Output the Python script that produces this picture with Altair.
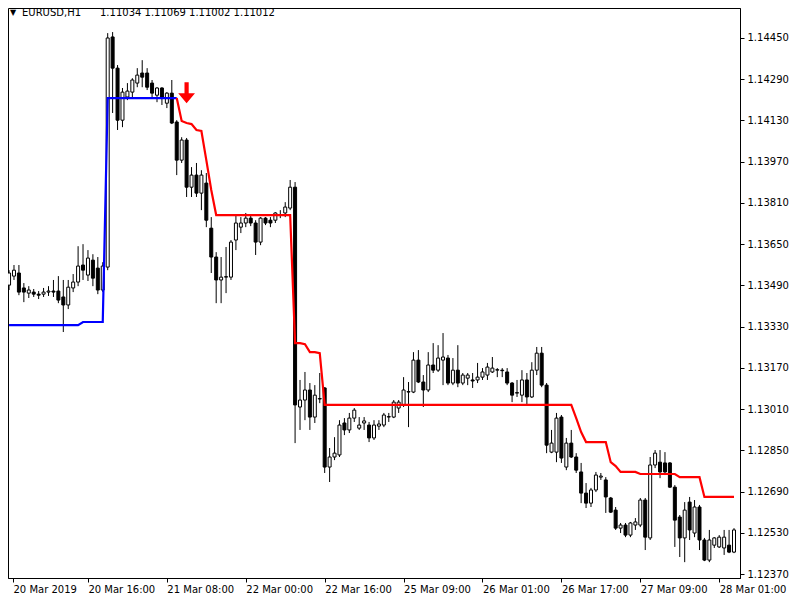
import altair as alt
import pandas as pd

# ---------------- data (EURUSD H1, bar index 0 = 20 Mar 2019 00:00) ----------------
opens = [
    1.13491, 1.13526, 1.13538, 1.13480, 1.13460, 1.13464, 1.13456, 1.13456, 1.13464, 1.13468,
    1.13468, 1.13445, 1.13414, 1.13480, 1.13503, 1.13569, 1.13530, 1.13588, 1.13557, 1.13472,
    1.13561, 1.14454, 1.14333, 1.14131, 1.14221, 1.14240, 1.14275, 1.14314, 1.14314, 1.14275,
    1.14228, 1.14256, 1.14197, 1.14236, 1.14124, 1.13976, 1.14054, 1.13871, 1.13918, 1.13848,
    1.13887, 1.13712, 1.13600, 1.13511, 1.13522, 1.13522, 1.13666, 1.13716, 1.13732, 1.13751,
    1.13732, 1.13658, 1.13751, 1.13743, 1.13743, 1.13763, 1.13771, 1.13790, 1.13871, 1.13018,
    1.13045, 1.13084, 1.12979, 1.13049, 1.13092, 1.12785, 1.12824, 1.12832, 1.12956, 1.12929,
    1.12975, 1.12936, 1.12956, 1.12948, 1.12898, 1.12944, 1.12948, 1.12979, 1.12979, 1.13014,
    1.13026, 1.13076, 1.13076, 1.13200, 1.13115, 1.13084, 1.13181, 1.13161, 1.13200, 1.13208,
    1.13111, 1.13161, 1.13111, 1.13130, 1.13123, 1.13123, 1.13134, 1.13142, 1.13154, 1.13161,
    1.13161, 1.13154, 1.13111, 1.13072, 1.13064, 1.13123, 1.13057, 1.13161, 1.13227, 1.13103,
    1.12843, 1.12843, 1.12979, 1.12785, 1.12878, 1.12824, 1.12766, 1.12684, 1.12645, 1.12696,
    1.12746, 1.12735, 1.12665, 1.12618, 1.12548, 1.12560, 1.12521, 1.12560, 1.12560, 1.12657,
    1.12510, 1.12793, 1.12804, 1.12801, 1.12801, 1.12707, 1.12591, 1.12510, 1.12649, 1.12529,
    1.12630, 1.12502, 1.12424, 1.12482, 1.12475, 1.12471, 1.12482, 1.12455,
]
highs = [
    1.13549, 1.13569, 1.13569, 1.13499, 1.13487, 1.13476, 1.13468, 1.13480, 1.13487, 1.13511,
    1.13526, 1.13511, 1.13511, 1.13534, 1.13642, 1.13650, 1.13627, 1.13611, 1.13600, 1.13580,
    1.14469, 1.14473, 1.14345, 1.14256, 1.14275, 1.14294, 1.14333, 1.14364, 1.14333, 1.14287,
    1.14259, 1.14259, 1.14240, 1.14287, 1.14131, 1.14065, 1.14062, 1.13949, 1.13965, 1.13937,
    1.13926, 1.13755, 1.13619, 1.13600, 1.13639, 1.13666, 1.13763, 1.13755, 1.13771, 1.13763,
    1.13743, 1.13755, 1.13755, 1.13755, 1.13774, 1.13782, 1.13813, 1.13899, 1.13891, 1.13123,
    1.13154, 1.13111, 1.13103, 1.13150, 1.13095, 1.12859, 1.12901, 1.12967, 1.12975, 1.12995,
    1.13014, 1.12979, 1.12979, 1.12960, 1.12967, 1.12967, 1.12995, 1.12995, 1.13045, 1.13045,
    1.13134, 1.13115, 1.13231, 1.13239, 1.13142, 1.13231, 1.13266, 1.13258, 1.13305, 1.13220,
    1.13208, 1.13258, 1.13150, 1.13150, 1.13150, 1.13189, 1.13169, 1.13189, 1.13212, 1.13169,
    1.13169, 1.13169, 1.13115, 1.13123, 1.13161, 1.13150, 1.13192, 1.13251, 1.13251, 1.13111,
    1.12929, 1.12995, 1.12987, 1.12898, 1.12929, 1.12839, 1.12801, 1.12723, 1.12704, 1.12766,
    1.12762, 1.12746, 1.12669, 1.12630, 1.12568, 1.12568, 1.12572, 1.12587, 1.12665, 1.12665,
    1.12824, 1.12851, 1.12851, 1.12843, 1.12804, 1.12715, 1.12599, 1.12649, 1.12669, 1.12657,
    1.12638, 1.12510, 1.12541, 1.12513, 1.12521, 1.12541, 1.12541, 1.12548,
]
lows = [
    1.13472, 1.13511, 1.13452, 1.13425, 1.13441, 1.13445, 1.13437, 1.13445, 1.13449, 1.13445,
    1.13421, 1.13309, 1.13398, 1.13464, 1.13487, 1.13511, 1.13507, 1.13487, 1.13456, 1.13464,
    1.13549, 1.14159, 1.14093, 1.14104, 1.14209, 1.14217, 1.14259, 1.14259, 1.14248, 1.14221,
    1.14201, 1.14190, 1.14178, 1.14116, 1.13918, 1.13965, 1.13833, 1.13833, 1.13833, 1.13782,
    1.13716, 1.13538, 1.13421, 1.13421, 1.13460, 1.13511, 1.13627, 1.13693, 1.13716, 1.13720,
    1.13608, 1.13646, 1.13724, 1.13716, 1.13732, 1.13751, 1.13755, 1.13782, 1.12878, 1.12929,
    1.12967, 1.12929, 1.12956, 1.13033, 1.12762, 1.12727, 1.12812, 1.12824, 1.12909, 1.12917,
    1.12960, 1.12929, 1.12929, 1.12882, 1.12890, 1.12929, 1.12940, 1.12960, 1.12975, 1.12995,
    1.13018, 1.12940, 1.13072, 1.13111, 1.13018, 1.13076, 1.13150, 1.13154, 1.13103, 1.13103,
    1.13103, 1.13095, 1.13103, 1.13103, 1.13092, 1.13111, 1.13123, 1.13123, 1.13150, 1.13134,
    1.13134, 1.13103, 1.13037, 1.13057, 1.13037, 1.13026, 1.13053, 1.13142, 1.13095, 1.12839,
    1.12839, 1.12804, 1.12801, 1.12773, 1.12820, 1.12762, 1.12645, 1.12626, 1.12630, 1.12688,
    1.12735, 1.12607, 1.12607, 1.12541, 1.12529, 1.12513, 1.12513, 1.12541, 1.12552, 1.12463,
    1.12502, 1.12781, 1.12742, 1.12754, 1.12704, 1.12475, 1.12436, 1.12416, 1.12502, 1.12513,
    1.12463, 1.12420, 1.12416, 1.12471, 1.12471, 1.12444, 1.12451, 1.12451,
]
closes = [
    1.13538, 1.13549, 1.13464, 1.13464, 1.13472, 1.13456, 1.13452, 1.13464, 1.13468, 1.13464,
    1.13433, 1.13414, 1.13483, 1.13503, 1.13565, 1.13549, 1.13596, 1.13518, 1.13472, 1.13565,
    1.14450, 1.14333, 1.14131, 1.14240, 1.14244, 1.14287, 1.14306, 1.14298, 1.14259, 1.14236,
    1.14256, 1.14221, 1.14236, 1.14120, 1.13976, 1.14054, 1.13871, 1.13918, 1.13848, 1.13918,
    1.13743, 1.13600, 1.13511, 1.13522, 1.13524, 1.13658, 1.13732, 1.13732, 1.13751, 1.13732,
    1.13658, 1.13751, 1.13732, 1.13732, 1.13771, 1.13765, 1.13794, 1.13871, 1.13026, 1.13045,
    1.13084, 1.12979, 1.13064, 1.13051, 1.12785, 1.12824, 1.12839, 1.12948, 1.12929, 1.12975,
    1.13006, 1.12948, 1.12964, 1.12898, 1.12948, 1.12952, 1.12987, 1.12981, 1.13037, 1.13037,
    1.13084, 1.13078, 1.13200, 1.13115, 1.13084, 1.13181, 1.13161, 1.13208, 1.13212, 1.13111,
    1.13161, 1.13111, 1.13142, 1.13142, 1.13119, 1.13134, 1.13154, 1.13173, 1.13169, 1.13163,
    1.13159, 1.13111, 1.13064, 1.13074, 1.13123, 1.13057, 1.13161, 1.13227, 1.13103, 1.12870,
    1.12878, 1.12975, 1.12820, 1.12878, 1.12824, 1.12773, 1.12684, 1.12645, 1.12696, 1.12754,
    1.12750, 1.12669, 1.12610, 1.12548, 1.12560, 1.12521, 1.12568, 1.12572, 1.12657, 1.12513,
    1.12793, 1.12839, 1.12766, 1.12766, 1.12707, 1.12579, 1.12510, 1.12618, 1.12541, 1.12630,
    1.12502, 1.12424, 1.12502, 1.12510, 1.12513, 1.12513, 1.12455, 1.12541,
]

# trend line (blue = up phase, bars 0..34; red = down phase, bars 34..147)
blue_start = 0
blue_line = [
    1.13336, 1.13336, 1.13336, 1.13336, 1.13336, 1.13336, 1.13336, 1.13336, 1.13336, 1.13336,
    1.13336, 1.13336, 1.13336, 1.13336, 1.13336, 1.13348, 1.13348, 1.13348, 1.13348, 1.13348,
    1.14217, 1.14217, 1.14217, 1.14217, 1.14217, 1.14217, 1.14217, 1.14217, 1.14217, 1.14217,
    1.14217, 1.14217, 1.14217, 1.14217, 1.14217,
]
red_start = 34
red_line = [
    1.14217, 1.14128, 1.14120, 1.14116, 1.14093, 1.14089, 1.13976, 1.13860,
    1.13763, 1.13763, 1.13763, 1.13763, 1.13763, 1.13763, 1.13763, 1.13763,
    1.13763, 1.13763, 1.13763, 1.13763, 1.13763, 1.13763, 1.13763, 1.13763,
    1.13266, 1.13266, 1.13262, 1.13231, 1.13231, 1.13227,
    1.13026, 1.13026, 1.13026, 1.13026, 1.13026, 1.13026, 1.13026, 1.13026, 1.13026, 1.13026,
    1.13026, 1.13026, 1.13026, 1.13026, 1.13026, 1.13026, 1.13026, 1.13026, 1.13026, 1.13026,
    1.13026, 1.13026, 1.13026, 1.13026, 1.13026, 1.13026, 1.13026, 1.13026, 1.13026, 1.13026,
    1.13026, 1.13026, 1.13026, 1.13026, 1.13026, 1.13026, 1.13026, 1.13026, 1.13026, 1.13026,
    1.13026, 1.13026, 1.13026, 1.13026, 1.13026, 1.13026, 1.13026, 1.13026, 1.13026, 1.13026,
    1.13026,
    1.12975, 1.12921, 1.12882, 1.12882, 1.12882, 1.12882, 1.12882,
    1.12804, 1.12789, 1.12766, 1.12766, 1.12766, 1.12766,
    1.12758, 1.12758, 1.12758, 1.12758, 1.12758, 1.12758, 1.12758, 1.12758,
    1.12746, 1.12746, 1.12746, 1.12746, 1.12746,
    1.12669, 1.12669, 1.12669, 1.12669, 1.12669, 1.12669, 1.12669,
]

# sell-signal arrow
arrow_bar = [36]
arrow_price = [1.14238]

# axes
y_ticks = [1.12370, 1.12530, 1.12690, 1.12850, 1.13010, 1.13170, 1.13330,
           1.13490, 1.13650, 1.13810, 1.13970, 1.14130, 1.14290, 1.14450]
x_tick_bars = [0, 16, 32, 48, 64, 80, 96, 112, 128, 144]
x_tick_labels = ["20 Mar 2019", "20 Mar 16:00", "21 Mar 08:00", "22 Mar 00:00",
                 "22 Mar 16:00", "25 Mar 09:00", "26 Mar 01:00", "26 Mar 17:00",
                 "27 Mar 09:00", "28 Mar 01:00"]
header_symbol = "EURUSD,H1"
header_prices = "1.11034 1.11069 1.11002 1.11012"

# ---------------- frames ----------------
n = len(opens)
df = pd.DataFrame({"bar": list(range(n)), "open": opens, "high": highs,
                   "low": lows, "close": closes})
df["dir"] = ["up" if c >= o else "down" for o, c in zip(opens, closes)]

blue_df = pd.DataFrame({"bar": list(range(blue_start, blue_start + len(blue_line))),
                        "v": blue_line})
red_df = pd.DataFrame({"bar": list(range(red_start, red_start + len(red_line))),
                       "v": red_line})
arrow_df = pd.DataFrame({"bar": arrow_bar, "p": arrow_price})

x_domain = [0.8, 147.2]
y_domain = [1.123545, 1.145664]
W, H = 732, 570

xs = alt.Scale(domain=x_domain, nice=False, zero=False)
ys = alt.Scale(domain=y_domain, nice=False, zero=False)

label_arr = "[" + ",".join("'" + t + "'" for t in x_tick_labels) + "]"
x_vals = [max(b, x_domain[0]) for b in x_tick_bars]

x_axis = alt.Axis(values=x_vals, labelExpr=label_arr + "[round(datum.value/16)]",
                  orient="bottom", title=None, grid=False, labelAlign="left",
                  labelPadding=2, tickSize=4, labelFlush=False, labelOverlap=False)
y_axis = alt.Axis(values=y_ticks, format=".5f", orient="right", title=None,
                  grid=False, tickSize=4, labelPadding=3, labelOverlap=False,
                  labelFlush=False)

base = alt.Chart(df)

wicks = base.mark_rule(color="black", strokeWidth=1, clip=True).encode(
    x=alt.X("bar:Q", scale=xs, axis=x_axis),
    y=alt.Y("low:Q", scale=ys, axis=y_axis),
    y2="high:Q",
)

bodies = base.mark_bar(width=3, stroke="black", strokeWidth=1, clip=True).encode(
    x=alt.X("bar:Q", scale=xs),
    y=alt.Y("open:Q", scale=ys),
    y2="close:Q",
    fill=alt.Fill("dir:N", scale=alt.Scale(domain=["up", "down"],
                                           range=["white", "black"]), legend=None),
)

blue = alt.Chart(blue_df).mark_line(color="#0000FF", strokeWidth=2.2, clip=True).encode(
    x=alt.X("bar:Q", scale=xs), y=alt.Y("v:Q", scale=ys))
red = alt.Chart(red_df).mark_line(color="#FF0000", strokeWidth=2.2, clip=True).encode(
    x=alt.X("bar:Q", scale=xs), y=alt.Y("v:Q", scale=ys))

arrow_path = "M -0.2 -1 L 0.2 -1 L 0.2 0.05 L 0.8 0.05 L 0 1 L -0.8 0.05 L -0.2 0.05 Z"
arrow = alt.Chart(arrow_df).mark_point(shape=arrow_path, size=441, filled=True,
                                       color="#FF0000", opacity=1, strokeWidth=0).encode(
    x=alt.X("bar:Q", scale=xs), y=alt.Y("p:Q", scale=ys))

hdr = pd.DataFrame({"a": ["\u25BC"], "s": [header_symbol], "p": [header_prices]})
tri = alt.Chart(hdr).mark_text(align="left", baseline="middle", font="DejaVu Sans",
                               fontSize=8, color="black").encode(
    x=alt.value(2), y=alt.value(5), text="a:N")
sym = alt.Chart(hdr).mark_text(align="left", baseline="middle", font="DejaVu Sans",
                               fontSize=10, color="black").encode(
    x=alt.value(14), y=alt.value(5), text="s:N")
prc = alt.Chart(hdr).mark_text(align="left", baseline="middle", font="DejaVu Sans",
                               fontSize=10, color="black").encode(
    x=alt.value(92), y=alt.value(5), text="p:N")

chart = alt.layer(wicks, bodies, blue, red, arrow, tri, sym, prc).properties(
    width=W, height=H, padding=0, background="white"
).configure_view(
    stroke="black", strokeWidth=1
).configure_axis(
    domainColor="black", tickColor="black", labelColor="black",
    labelFont="DejaVu Sans", labelFontSize=10, domainWidth=1, tickWidth=1,
)

chart.save("out.html", embed_options={"renderer": "svg", "actions": False})
